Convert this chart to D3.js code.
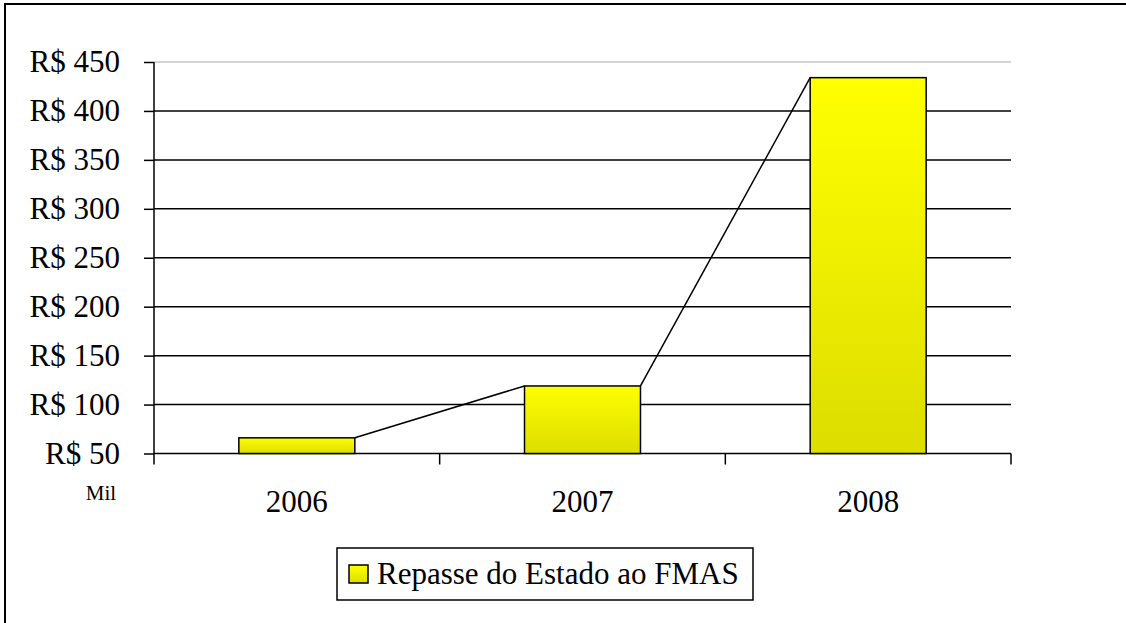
<html>
<head>
<script src="https://cdn.jsdelivr.net/npm/d3@7"></script>
<style>
  body { margin: 0; }
  #wrap { position: relative; width: 1126px; height: 623px; overflow: hidden; }
  #wrap svg { position: absolute; left: 0; top: 0; }
  .lbl { position: absolute; font-family: "Liberation Serif", "Times New Roman", Tinos, serif; color: #000; white-space: nowrap; line-height: 1; }
</style>
</head>
<body>
<div id="wrap"><svg id="chart" width="1126" height="623"></svg></div>
<script>
// data
const years = ["2006", "2007", "2008"];
const repasse = [66, 119, 434];
const yTicks = [50, 100, 150, 200, 250, 300, 350, 400, 450];
const seriesName = "Repasse do Estado ao FMAS";

const svg = d3.select("#chart");
const wrap = d3.select("#wrap");

const defs = svg.append("defs");
const grad = defs.append("linearGradient")
  .attr("id", "barGrad").attr("x1", 0).attr("y1", 0).attr("x2", 0).attr("y2", 1);
grad.append("stop").attr("offset", "0%").attr("stop-color", "#ffff00");
grad.append("stop").attr("offset", "100%").attr("stop-color", "#dddd00");

const pLeft = 154, pRight = 1011, pTop = 62, pBottom = 453.5;

const x = d3.scaleBand().domain(years).range([pLeft, pRight]).padding(0);
const y = d3.scaleLinear().domain([50, 450]).range([pBottom, pTop]);
const barW = x.bandwidth() * 0.406;

// outer frame (right/bottom edges fall outside the picture)
svg.append("rect")
  .attr("x", 5).attr("y", 4)
  .attr("width", 1130).attr("height", 630)
  .attr("fill", "none").attr("stroke", "#000").attr("stroke-width", 2);

// gridlines
svg.append("g").selectAll("line")
  .data(yTicks.slice(1))
  .enter().append("line")
  .attr("x1", pLeft).attr("x2", pRight)
  .attr("y1", d => y(d)).attr("y2", d => y(d))
  .attr("stroke", d => d === 450 ? "#d4d4d4" : "#000")
  .attr("stroke-width", d => d === 450 ? 2 : 1.5);

// y axis ticks
const yAxis = svg.append("g")
  .attr("transform", `translate(${pLeft},0)`)
  .call(d3.axisLeft(y).tickValues(yTicks).tickSize(10).tickFormat(""));
yAxis.select(".domain").remove();
yAxis.selectAll(".tick text").remove();
yAxis.append("line")
  .attr("x1", 0).attr("x2", 0).attr("y1", pTop).attr("y2", pBottom + 11)
  .attr("stroke", "#000").attr("stroke-width", 1.5);
yAxis.selectAll(".tick line").attr("stroke", "#000").attr("stroke-width", 1.5);

// x axis baseline and boundary ticks
const xAxis = svg.append("g").attr("transform", `translate(0,${pBottom})`);
xAxis.append("line")
  .attr("x1", pLeft).attr("x2", pRight).attr("y1", 0).attr("y2", 0)
  .attr("stroke", "#000").attr("stroke-width", 1.5);
xAxis.selectAll("line.boundary")
  .data(years.slice(1).map(d => x(d)).concat([pRight]))
  .enter().append("line").attr("class", "boundary")
  .attr("x1", d => d).attr("x2", d => d).attr("y1", 0).attr("y2", 11)
  .attr("stroke", "#000").attr("stroke-width", 1.5);

// series lines between bars
const pts = years.map((d, i) => ({
  l: x(d) + (x.bandwidth() - barW) / 2,
  r: x(d) + (x.bandwidth() + barW) / 2,
  t: y(repasse[i])
}));
svg.append("g").selectAll("line")
  .data(pts.slice(1))
  .enter().append("line")
  .attr("x1", (d, i) => pts[i].r).attr("y1", (d, i) => pts[i].t)
  .attr("x2", d => d.l).attr("y2", d => d.t)
  .attr("stroke", "#000").attr("stroke-width", 1.5);

// bars
svg.append("g").selectAll("rect")
  .data(years)
  .enter().append("rect")
  .attr("x", d => x(d) + (x.bandwidth() - barW) / 2)
  .attr("width", barW)
  .attr("y", (d, i) => y(repasse[i]))
  .attr("height", (d, i) => pBottom - y(repasse[i]))
  .attr("fill", "url(#barGrad)")
  .attr("stroke", "#000").attr("stroke-width", 1.5);

// legend box
svg.append("rect")
  .attr("x", 337).attr("y", 548).attr("width", 416).attr("height", 52)
  .attr("fill", "#fff").attr("stroke", "#000").attr("stroke-width", 1.5);
svg.append("rect")
  .attr("x", 349).attr("y", 565).attr("width", 19).attr("height", 18)
  .attr("fill", "url(#barGrad)").attr("stroke", "#000").attr("stroke-width", 1.5);

// text as positioned html labels (line-height 1: baseline ≈ top + 0.89em)
wrap.selectAll("div.ylab")
  .data(yTicks)
  .enter().append("div").attr("class", "lbl ylab")
  .style("font-size", "31px")
  .style("right", (1126 - 120) + "px")
  .style("top", d => (y(d) - 16) + "px")
  .text(d => "R$ " + d);

wrap.selectAll("div.xlab")
  .data(years)
  .enter().append("div").attr("class", "lbl xlab")
  .style("font-size", "31px")
  .style("left", d => (x(d) + x.bandwidth() / 2 - 60) + "px")
  .style("width", "120px").style("text-align", "center")
  .style("top", "486px")
  .text(d => d);

wrap.append("div").attr("class", "lbl")
  .style("font-size", "21px")
  .style("left", "71px").style("width", "60px").style("text-align", "center")
  .style("top", "483px")
  .text("Mil");

wrap.append("div").attr("class", "lbl")
  .style("font-size", "31px")
  .style("left", "377px").style("top", "558px")
  .text(seriesName);
</script>
</body>
</html>
